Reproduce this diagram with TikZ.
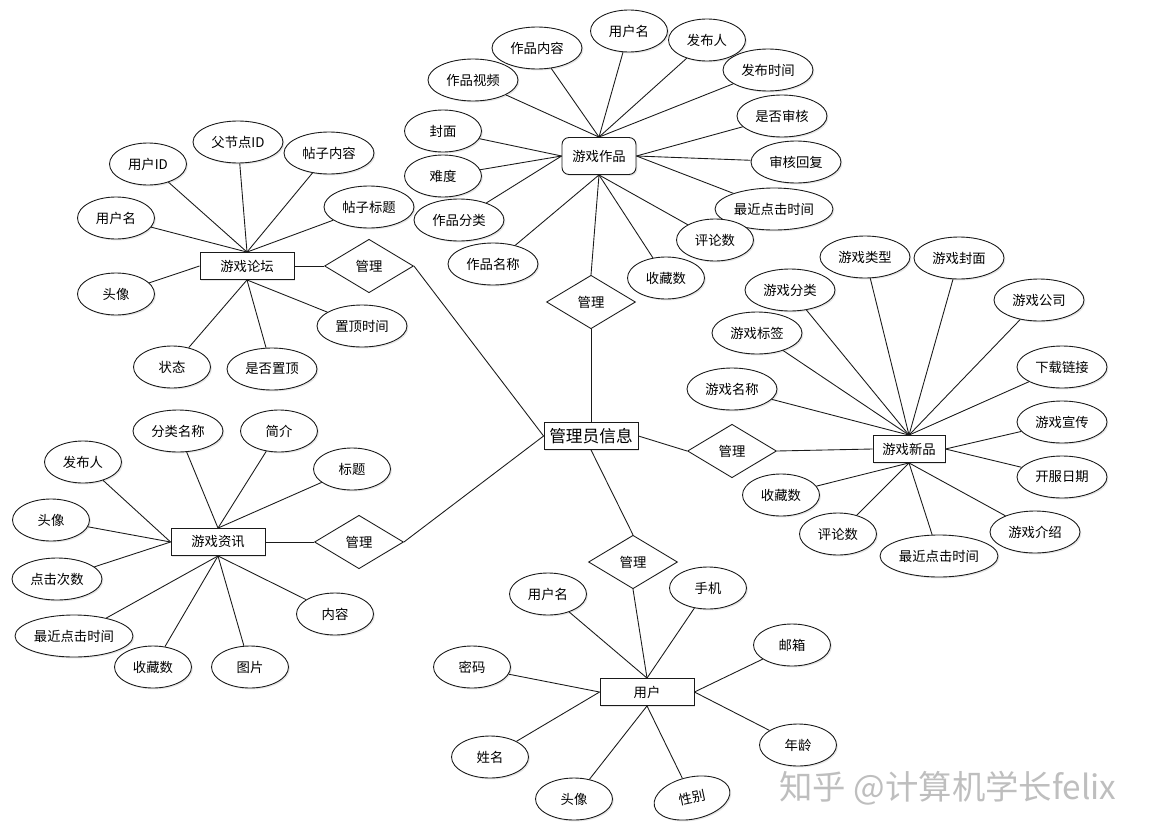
\documentclass[tikz,border=0pt]{standalone}
\usepackage{fontspec}
\newfontfamily\cjk{Noto Sans CJK SC}
\usetikzlibrary{
  shapes.geometric,
  shadows
}
\definecolor{erLine}{HTML}{1A1A1A}
\definecolor{erMark}{HTML}{BEBEBE}

\begin{document}
\begin{tikzpicture}[
  x=0.02cm, y=-0.02cm,
  every node/.style={font=\cjk\fontsize{7.6}{9}\selectfont, align=center, inner sep=0pt},
  attrbox/.style={
    ellipse, draw=erLine, fill=white, line width=0.5pt,
    minimum width=1.54cm, minimum height=0.84cm,
    drop shadow={shadow xshift=0.8pt, shadow yshift=-0.8pt, opacity=0.2}
  },
  attrwide/.style={attrbox, minimum width=1.8cm},
  attrlong/.style={attrbox, minimum width=2.36cm},
  entitybox/.style={
    rectangle, draw=erLine, fill=white, line width=0.5pt,
    minimum width=1.88cm, minimum height=0.54cm,
    drop shadow={shadow xshift=0.8pt, shadow yshift=-0.8pt, opacity=0.2}
  },
  relbox/.style={
    diamond, draw=erLine, fill=white, line width=0.5pt,
    minimum width=1.78cm, minimum height=1.07cm
  },
  link/.style={draw=erLine, line width=0.5pt}
]
 \useasboundingbox (0,0) rectangle (1149,835);

 % Centre entity
 \node[entitybox, font=\cjk\fontsize{9.5}{11}\selectfont] (gly) at (591,436) {管理员信息};

 % Relations
 \node[relbox] (r1) at (369,266) {管理};
 \node[relbox] (r2) at (591,302) {管理};
 \node[relbox] (r3) at (732,451) {管理};
 \node[relbox] (r4) at (359,542) {管理};
 \node[relbox] (r5) at (633,562) {管理};

 % Game works
 \node[entitybox, rounded corners=4pt, minimum width=1.48cm, minimum height=0.74cm] (zp) at (599,156) {游戏作品};
 \node[attrbox] (zp1) at (629,31) {用户名};
 \node[attrwide] (zp2) at (537,48) {作品内容};
 \node[attrbox] (zp3) at (707,40) {发布人};
 \node[attrwide] (zp4) at (473,80) {作品视频};
 \node[attrwide] (zp5) at (768,70) {发布时间};
 \node[attrbox] (zp6) at (443,131) {封面};
 \node[attrwide] (zp7) at (782,116) {是否审核};
 \node[attrbox] (zp8) at (443,176) {难度};
 \node[attrwide] (zp9) at (796,162) {审核回复};
 \node[attrwide] (zp10) at (459,220) {作品分类};
 \node[attrlong] (zp11) at (774,209) {最近点击时间};
 \node[attrwide] (zp12) at (493,264) {作品名称};
 \node[attrbox] (zp13) at (715,240) {评论数};
 \node[attrbox] (zp14) at (666,278) {收藏数};
 \foreach \a in {zp1,zp2,zp3,zp4,zp5} \draw[link] (zp.north) -- (\a);
 \foreach \a in {zp6,zp8,zp10} \draw[link] (zp.west) -- (\a);
 \foreach \a in {zp7,zp9,zp11} \draw[link] (zp.east) -- (\a);
 \foreach \a in {zp12,zp13,zp14} \draw[link] (zp.south) -- (\a);
 \draw[link] (zp.south) -- (r2.north);
 \draw[link] (r2.south) -- (gly.north);

 % Game forum
 \node[entitybox] (lt) at (247,266) {游戏论坛};
 \node[attrbox] (lt1) at (148,164) {用户ID};
 \node[attrwide] (lt2) at (238,142) {父节点ID};
 \node[attrwide] (lt3) at (329,153) {帖子内容};
 \node[attrbox] (lt4) at (116,218) {用户名};
 \node[attrwide] (lt5) at (369,207) {帖子标题};
 \node[attrbox] (lt6) at (116,294) {头像};
 \node[attrwide] (lt7) at (362,326) {置顶时间};
 \node[attrbox] (lt8) at (172,367) {状态};
 \node[attrwide] (lt9) at (272,369) {是否置顶};
 \foreach \a in {lt1,lt2,lt3,lt4,lt5} \draw[link] (lt.north) -- (\a);
 \draw[link] (lt.west) -- (lt6);
 \foreach \a in {lt7,lt8,lt9} \draw[link] (lt.south) -- (\a);
 \draw[link] (lt.east) -- (r1.west);
 \draw[link] (r1.east) -- (gly.west);

 % Game news
 \node[entitybox] (zx) at (218,542) {游戏资讯};
 \node[attrwide] (zx1) at (178,431) {分类名称};
 \node[attrbox] (zx2) at (279,431) {简介};
 \node[attrbox] (zx3) at (83,462) {发布人};
 \node[attrbox] (zx4) at (352,469) {标题};
 \node[attrbox] (zx5) at (51,520) {头像};
 \node[attrwide] (zx6) at (57,579) {点击次数};
 \node[attrbox] (zx7) at (335,614) {内容};
 \node[attrlong] (zx8) at (74,636) {最近点击时间};
 \node[attrbox] (zx9) at (153,667) {收藏数};
 \node[attrbox] (zx10) at (250,667) {图片};
 \foreach \a in {zx1,zx2,zx4} \draw[link] (zx.north) -- (\a);
 \foreach \a in {zx3,zx5,zx6} \draw[link] (zx.west) -- (\a);
 \foreach \a in {zx7,zx8,zx9,zx10} \draw[link] (zx.south) -- (\a);
 \draw[link] (zx.east) -- (r4.west);
 \draw[link] (r4.east) -- (gly.west);

 % New games
 \node[entitybox, minimum width=1.44cm] (xp) at (909,449) {游戏新品};
 \node[attrwide] (xp1) at (865,257) {游戏类型};
 \node[attrwide] (xp2) at (959,258) {游戏封面};
 \node[attrwide] (xp3) at (790,290) {游戏分类};
 \node[attrwide] (xp4) at (1039,300) {游戏公司};
 \node[attrwide] (xp5) at (757,333) {游戏标签};
 \node[attrwide] (xp6) at (1062,367) {下载链接};
 \node[attrwide] (xp7) at (732,389) {游戏名称};
 \node[attrwide] (xp8) at (1062,422) {游戏宣传};
 \node[attrwide] (xp9) at (1062,477) {开服日期};
 \node[attrbox] (xp10) at (781,495) {收藏数};
 \node[attrwide] (xp11) at (1035,532) {游戏介绍};
 \node[attrbox] (xp12) at (838,534) {评论数};
 \node[attrlong] (xp13) at (939,556) {最近点击时间};
 \foreach \a in {xp1,xp2,xp3,xp4,xp5,xp6,xp7} \draw[link] (xp.north) -- (\a);
 \foreach \a in {xp8,xp9} \draw[link] (xp.east) -- (\a);
 \foreach \a in {xp10,xp11,xp12,xp13} \draw[link] (xp.south) -- (\a);
 \draw[link] (gly.east) -- (r3.west);
 \draw[link] (r3.east) -- (xp.west);

 % Users
 \node[entitybox] (yh) at (647,692) {用户};
 \node[attrbox] (yh1) at (548,594) {用户名};
 \node[attrbox] (yh2) at (708,588) {手机};
 \node[attrbox] (yh3) at (792,645) {邮箱};
 \node[attrbox] (yh4) at (472,667) {密码};
 \node[attrbox] (yh5) at (798,745) {年龄};
 \node[attrbox] (yh6) at (490,757) {姓名};
 \node[attrbox] (yh7) at (574,799) {头像};
 \node[attrbox, rotate=12] (yh8) at (692,798) {性别};
 \foreach \a in {yh1,yh2} \draw[link] (yh.north) -- (\a);
 \foreach \a in {yh3,yh5} \draw[link] (yh.east) -- (\a);
 \foreach \a in {yh4,yh6} \draw[link] (yh.west) -- (\a);
 \foreach \a in {yh7,yh8} \draw[link] (yh.south) -- (\a);
 \draw[link] (gly.south) -- (r5.north);
 \draw[link] (r5.south) -- (yh.north);

 % Watermark
 \node[font=\cjk\fontsize{19}{22}\selectfont, text=erMark] (mark) at (948,788) {知乎 @计算机学长felix};
\end{tikzpicture}
\end{document}
